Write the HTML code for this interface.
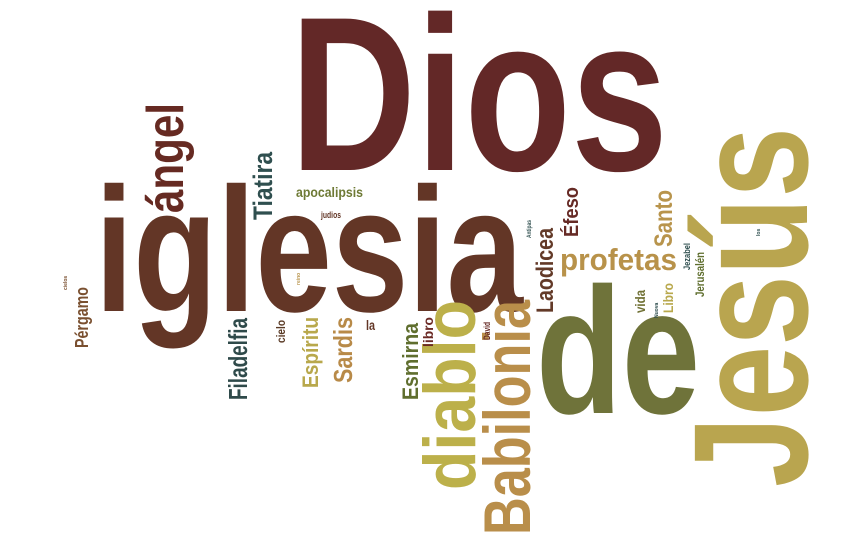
<!DOCTYPE html>
<html><head><meta charset="utf-8"><style>
html,body{margin:0;padding:0;background:#fff;}
svg{display:block;}
text{font-family:"Liberation Sans Narrow","Liberation Sans",sans-serif;font-weight:bold;}
</style></head><body>
<svg width="866" height="543" viewBox="0 0 866 543">
<text x="290" y="170" font-size="220" textLength="378" lengthAdjust="spacingAndGlyphs" fill="#632827">Dios</text>
<text x="95" y="311" font-size="177" textLength="428" lengthAdjust="spacingAndGlyphs" fill="#633626">iglesia</text>
<text x="536" y="413" font-size="180" textLength="164" lengthAdjust="spacingAndGlyphs" fill="#6f733a">de</text>
<text transform="translate(807,487) rotate(-90)" font-size="163" textLength="360" lengthAdjust="spacingAndGlyphs" fill="#b9a54f">Jesús</text>
<text transform="translate(475,490) rotate(-90)" font-size="73" textLength="190" lengthAdjust="spacingAndGlyphs" fill="#bcb04a">diablo</text>
<text transform="translate(530,535) rotate(-90)" font-size="66" textLength="235" lengthAdjust="spacingAndGlyphs" fill="#b98e4a">Babilonia</text>
<text x="560" y="270" font-size="31" textLength="117" lengthAdjust="spacingAndGlyphs" fill="#b8924a">profetas</text>
<text transform="translate(183,213) rotate(-90)" font-size="52" textLength="110" lengthAdjust="spacingAndGlyphs" fill="#662a22">ángel</text>
<text transform="translate(272,220) rotate(-90)" font-size="27" textLength="68" lengthAdjust="spacingAndGlyphs" fill="#2f4f4f">Tiatira</text>
<text x="296" y="197" font-size="14" textLength="67" lengthAdjust="spacingAndGlyphs" fill="#6e7a35">apocalipsis</text>
<text x="321" y="218" font-size="9" textLength="20" lengthAdjust="spacingAndGlyphs" fill="#633626">judios</text>
<text transform="translate(578,237) rotate(-90)" font-size="20" textLength="50" lengthAdjust="spacingAndGlyphs" fill="#662a25">Éfeso</text>
<text transform="translate(553,313) rotate(-90)" font-size="24" textLength="85" lengthAdjust="spacingAndGlyphs" fill="#633a28">Laodicea</text>
<text transform="translate(672,247) rotate(-90)" font-size="25" textLength="57" lengthAdjust="spacingAndGlyphs" fill="#b8944c">Santo</text>
<text transform="translate(645,313) rotate(-90)" font-size="14" textLength="23" lengthAdjust="spacingAndGlyphs" fill="#6f7033">vida</text>
<text transform="translate(673,313) rotate(-90)" font-size="14" textLength="30" lengthAdjust="spacingAndGlyphs" fill="#b8a84c">Libro</text>
<text transform="translate(690,270) rotate(-90)" font-size="9" textLength="27" lengthAdjust="spacingAndGlyphs" fill="#2f4f4f">Jezabel</text>
<text transform="translate(704,297) rotate(-90)" font-size="12" textLength="45" lengthAdjust="spacingAndGlyphs" fill="#5f6e2e">Jerusalén</text>
<text transform="translate(658,318) rotate(-90)" font-size="5" fill="#2f4f4f">Nuova</text>
<text transform="translate(760,236) rotate(-90)" font-size="5" fill="#2f4f4f">los</text>
<text transform="translate(318,388) rotate(-90)" font-size="22" textLength="71" lengthAdjust="spacingAndGlyphs" fill="#b8a84c">Espíritu</text>
<text transform="translate(352,383) rotate(-90)" font-size="26" textLength="66" lengthAdjust="spacingAndGlyphs" fill="#b88a48">Sardis</text>
<text x="366" y="330" font-size="14" textLength="9" lengthAdjust="spacingAndGlyphs" fill="#633626">la</text>
<text transform="translate(418,400) rotate(-90)" font-size="22" textLength="77" lengthAdjust="spacingAndGlyphs" fill="#5f6e2e">Esmirna</text>
<text transform="translate(433,347) rotate(-90)" font-size="14" textLength="30" lengthAdjust="spacingAndGlyphs" fill="#6b2a25">libro</text>
<text transform="translate(490,340) rotate(-90)" font-size="9" textLength="18" lengthAdjust="spacingAndGlyphs" fill="#662a25">David</text>
<text transform="translate(531,238) rotate(-90)" font-size="6" textLength="18" lengthAdjust="spacingAndGlyphs" fill="#2f4f4f">Antipas</text>
<text transform="translate(247,400) rotate(-90)" font-size="26" textLength="82" lengthAdjust="spacingAndGlyphs" fill="#2f4a4a">Filadelfia</text>
<text transform="translate(285,343) rotate(-90)" font-size="12" textLength="23" lengthAdjust="spacingAndGlyphs" fill="#5a3a25">cielo</text>
<text transform="translate(88,348) rotate(-90)" font-size="18" textLength="61" lengthAdjust="spacingAndGlyphs" fill="#7a5030">Pérgamo</text>
<text transform="translate(67,290) rotate(-90)" font-size="5" fill="#7a5030">cielos</text>
<text transform="translate(300,285) rotate(-90)" font-size="5" fill="#b8944c">reino</text>
</svg>
</body></html>
